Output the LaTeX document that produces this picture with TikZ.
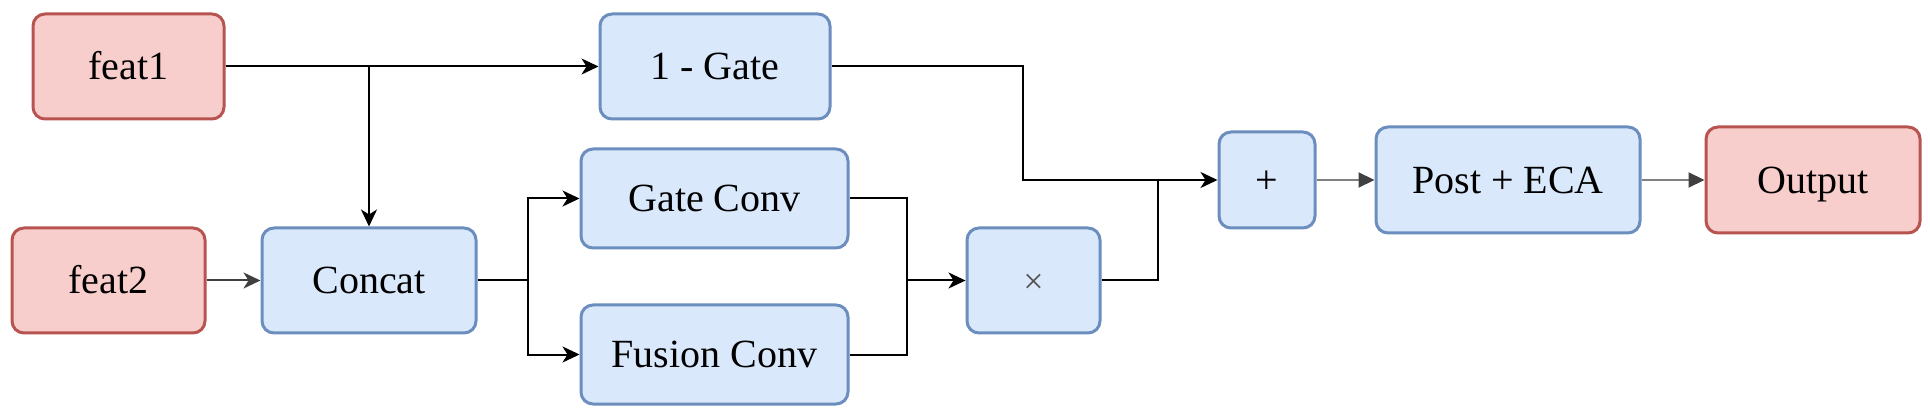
\documentclass[tikz,border=0pt]{standalone}
\usepackage{fontspec}
\setmainfont{Liberation Serif}
\usetikzlibrary{arrows.meta,positioning,shapes}
\definecolor{redfill}{HTML}{F8CECC}
\definecolor{redline}{HTML}{B85450}
\definecolor{bluefill}{HTML}{DAE8FC}
\definecolor{blueline}{HTML}{6C8EBF}
\definecolor{signgray}{HTML}{555555}
\tikzset{%
	block/.style     = {draw=blueline, fill=bluefill, line width=1.5pt, rectangle, rounded corners=6pt, minimum height=52.5pt, text height=17pt, text depth=3.8pt, text centered, font=\fontsize{20}{24}\selectfont},
	io/.style        = {block, draw=redline, fill=redfill}, % Input / output
	waypoint/.style  = {coordinate},
	line/.style      = {line width=1pt},
	arrow/.style     = {line width=1pt, -{Stealth[length=8.5pt,width=8pt,inset=2.5pt]}},
	greyarrow/.style = {line width=1pt, draw=gray, -{Triangle[length=8pt,width=7.5pt,color=darkgray]}},
}

\begin{document}
\begin{tikzpicture}
	\useasboundingbox (0,0) rectangle (965pt,-208pt);
	\node [io, minimum width=95.5pt] (feat1) at (64.25pt,-33.25pt) {feat1};
	\node [io, minimum width=96.5pt] (feat2) at (54.25pt,-140.25pt) {feat2};
	\node [block, minimum width=107pt] (concat) [right of=feat2, node distance=130.25pt] {Concat};
	\node [block, minimum width=115pt] (gate) at (357.5pt,-33.25pt) {1 - Gate};
	\node [block, minimum width=133.5pt, minimum height=49.5pt] (gconv) at (357.25pt,-99.25pt) {Gate Conv};
	\node [block, minimum width=133.5pt, minimum height=49.5pt] (fconv) [below of=gconv, node distance=78pt] {Fusion Conv};
	\node [block, minimum width=66.5pt, text=signgray, font=\fontsize{18}{22}\selectfont] (mul) at (516.75pt,-140.25pt) {×};
	\node [block, minimum width=48pt, minimum height=48pt] (plus) at (633.5pt,-90pt) {+};
	\node [block, minimum width=132pt, minimum height=53pt] (post) [right of=plus, node distance=120.5pt] {Post + ECA};
	\node [io, minimum width=107pt, minimum height=53pt] (output) [right of=post, node distance=152.5pt] {Output};

	\node [waypoint] (split) [right of=concat, node distance=79.5pt] {};
	\node [waypoint] (join) [left of=mul, node distance=63.25pt] {};
	\node [waypoint] (turn) [left of=plus, node distance=122pt] {};
	\node [waypoint] (merge) [left of=plus, node distance=54.5pt] {};

	\draw[arrow] (feat1) -- (gate);
	\draw[arrow] (feat1) -| (concat);
	\draw[arrow, draw=darkgray] (feat2) -- (concat);
	\draw[line] (concat) -- (split);
	\draw[arrow] (split) |- (gconv);
	\draw[arrow] (split) |- (fconv);
	\draw[line] (gconv) -| (join);
	\draw[line] (fconv) -| (join);
	\draw[arrow] (join) -- (mul);
	\draw[line] (mul) -| (merge);
	\draw[arrow] (gate) -| (turn) -- (plus);
	\draw[greyarrow] (plus) -- (post);
	\draw[greyarrow] (post) -- (output);
\end{tikzpicture}
\end{document}
